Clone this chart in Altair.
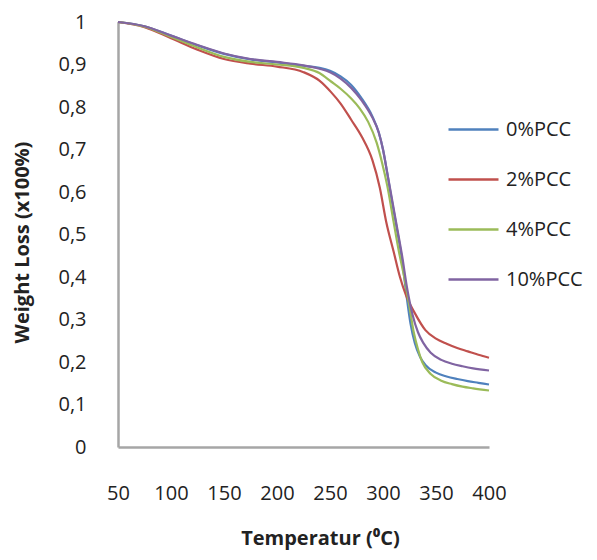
import altair as alt
import pandas as pd

series_names = ["0%PCC", "2%PCC", "4%PCC", "10%PCC"]
series_colors = ["#4F81BD", "#C0504D", "#9BBB59", "#8064A2"]

t_0 = [50, 75, 100, 125, 150, 175, 200, 225, 240, 250, 260, 270, 280, 290, 296, 300, 304, 308, 313, 318, 322, 326, 330, 335, 340, 350, 360, 370, 380, 390, 400]
w_0 = [1.0, 0.99, 0.968, 0.945, 0.925, 0.912, 0.905, 0.897, 0.892, 0.885, 0.872, 0.852, 0.82, 0.778, 0.74, 0.70, 0.645, 0.585, 0.515, 0.44, 0.36, 0.29, 0.245, 0.212, 0.193, 0.175, 0.166, 0.16, 0.155, 0.151, 0.147]

t_2 = [50, 75, 100, 125, 150, 175, 200, 225, 240, 251, 260, 270, 280, 290, 297, 303, 310, 316, 322, 330, 340, 350, 360, 370, 380, 390, 400]
w_2 = [1.0, 0.988, 0.962, 0.935, 0.913, 0.902, 0.895, 0.882, 0.862, 0.835, 0.808, 0.77, 0.73, 0.675, 0.61, 0.53, 0.46, 0.40, 0.355, 0.315, 0.275, 0.255, 0.243, 0.233, 0.225, 0.217, 0.21]

t_4 = [50, 75, 100, 125, 150, 175, 200, 225, 240, 251, 260, 270, 278, 286, 294, 299, 304, 310, 315, 320, 325, 329, 333, 337, 345, 355, 365, 375, 385, 400]
w_4 = [1.0, 0.989, 0.965, 0.94, 0.918, 0.906, 0.9, 0.892, 0.88, 0.86, 0.843, 0.82, 0.797, 0.765, 0.716, 0.67, 0.615, 0.53, 0.46, 0.40, 0.33, 0.27, 0.23, 0.2, 0.172, 0.156, 0.148, 0.142, 0.138, 0.133]

t_10 = [50, 75, 100, 125, 150, 175, 200, 225, 240, 250, 260, 270, 280, 290, 296, 300, 304, 308, 313, 318, 323, 328, 333, 338, 345, 355, 365, 375, 385, 400]
w_10 = [1.0, 0.99, 0.968, 0.946, 0.926, 0.913, 0.906, 0.898, 0.89, 0.882, 0.867, 0.845, 0.815, 0.775, 0.74, 0.70, 0.645, 0.59, 0.52, 0.45, 0.37, 0.31, 0.27, 0.245, 0.222, 0.205, 0.196, 0.19, 0.185, 0.18]

y_ticks = [0, 0.1, 0.2, 0.3, 0.4, 0.5, 0.6, 0.7, 0.8, 0.9, 1.0]
x_ticks = [50, 100, 150, 200, 250, 300, 350, 400]

rows = []
for name, ts, ws in zip(series_names, [t_0, t_2, t_4, t_10], [w_0, w_2, w_4, w_10]):
    for t, w in zip(ts, ws):
        rows.append({"series": name, "T": t, "W": w})
df = pd.DataFrame(rows)

FONT = "Open Sans"

chart = alt.Chart(df).mark_line(strokeWidth=2.2, interpolate="monotone").encode(
    x=alt.X("T:Q",
            scale=alt.Scale(domain=[50, 400], nice=False, zero=False),
            axis=alt.Axis(values=x_ticks, title="Temperatur (⁰C)", grid=False, ticks=False,
                          labelPadding=36, labelFontSize=20, labelColor="#222222", labelFont=FONT,
                          titleFont=FONT, titleFontSize=20, titleFontWeight="bold", titleColor="#222222",
                          titleX=202, titleY=91, titleBaseline="middle",
                          domainColor="#A6A6A6", domainWidth=2.5, labelFlush=False)),
    y=alt.Y("W:Q",
            scale=alt.Scale(domain=[0, 1], nice=False),
            axis=alt.Axis(values=y_ticks, title="Weight Loss (x100%)", grid=False, ticks=False,
                          labelExpr="datum.value == 0 ? '0' : (datum.value == 1 ? '1' : replace(format(datum.value, '.1f'), '.', ','))",
                          labelPadding=32, labelFontSize=20, labelColor="#222222", labelFont=FONT,
                          titleFont=FONT, titleFontSize=20, titleFontWeight="bold", titleColor="#222222",
                          titleX=-96, titleY=220, titleAngle=270, titleBaseline="middle", titleAlign="center",
                          domainColor="#A6A6A6", domainWidth=2.5, labelFlush=False)),
    color=alt.Color("series:N",
                    scale=alt.Scale(domain=series_names, range=series_colors),
                    legend=alt.Legend(title=None, orient="none", legendX=329, legendY=81,
                                      symbolType="stroke", symbolSize=2500, symbolStrokeWidth=2.5,
                                      labelFontSize=20, labelFont=FONT, labelColor="#222222",
                                      labelOffset=6, rowPadding=13, padding=0)),
    detail="series:N",
).properties(
    width=371, height=425,
    autosize=alt.AutoSizeParams(type="none"),
    padding={"left": 110, "top": 14, "right": 100, "bottom": 105},
).configure_view(stroke=None)

chart.save("out.html", embed_options={"renderer": "svg", "actions": False})
